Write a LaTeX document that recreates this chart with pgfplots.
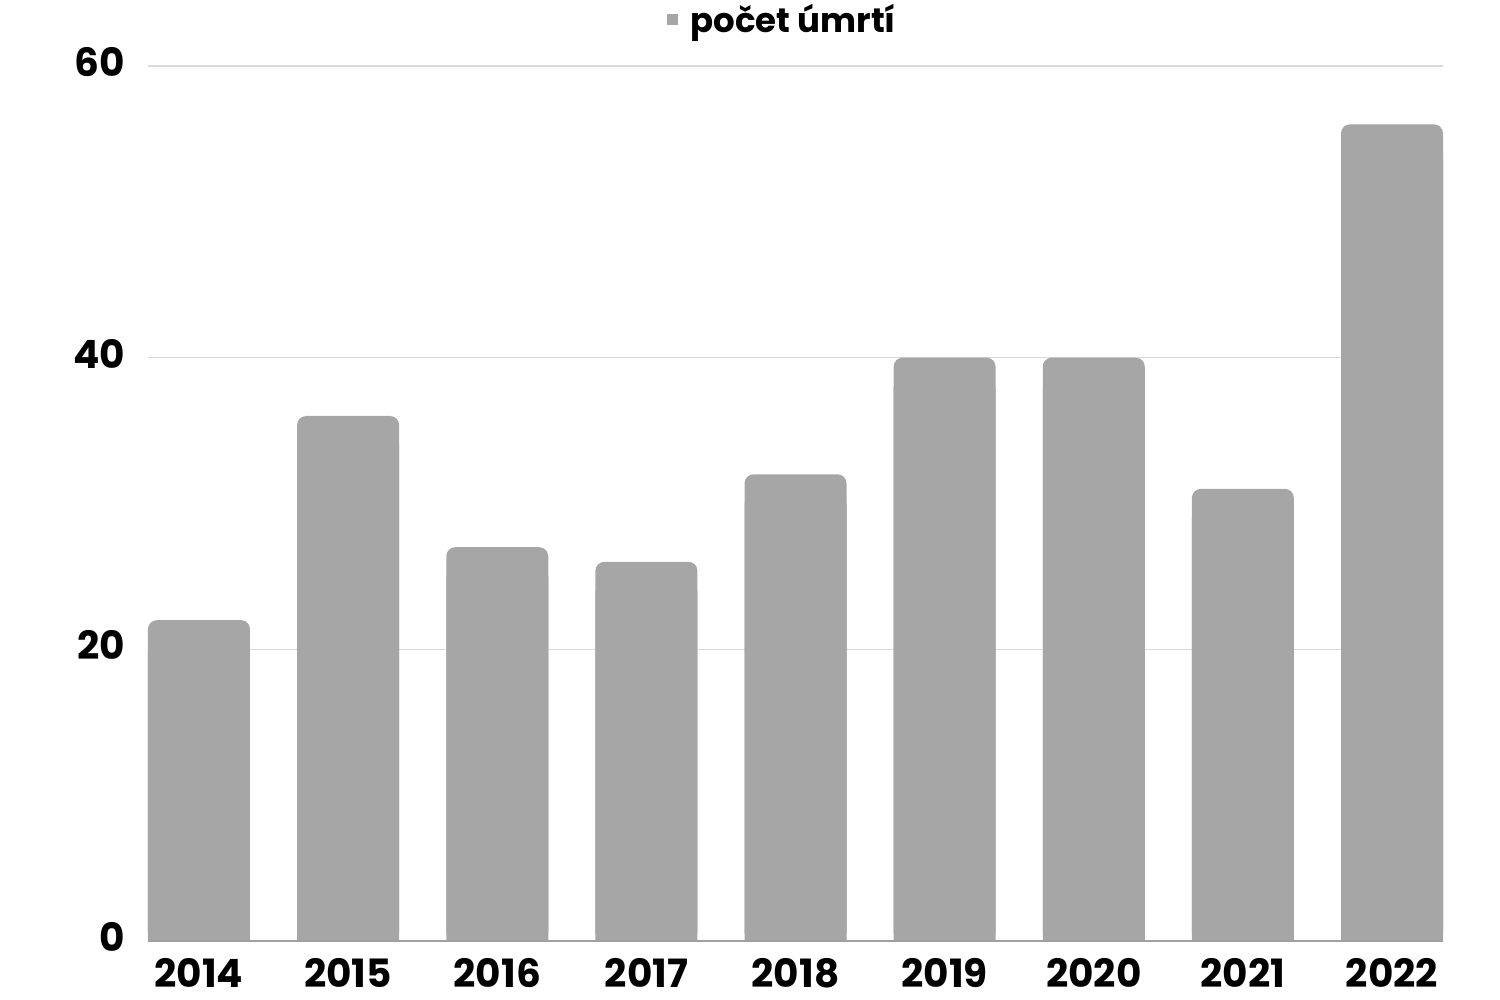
\documentclass[border=0pt]{standalone}
\usepackage{fontspec}
\setmainfont{Poppins}
\usepackage{pgfplots}
\pgfplotsset{compat=1.18}
\usepackage{pgfplotstable}

\definecolor{barc}{HTML}{A6A6A6}
\definecolor{gridc}{HTML}{DADADA}
\definecolor{basec}{HTML}{A0A0A0}

% deaths per year, 2014 = 0 ... 2022 = 8
\pgfplotstableread{
x n
0 22
1 36
2 27
3 26
4 32
5 40
6 40
7 31
8 56
}\deaths

\begin{document}
\begin{tikzpicture}
\begin{axis}[
  scale only axis,
  width=647.5pt, height=437.5pt,
  ymin=0, ymax=60, ytick={0,20,40,60},
  xmin=-0.342, xmax=8.342,
  xtick=data,
  xticklabels={2014,2015,2016,2017,2018,2019,2020,2021,2022},
  ybar, bar width=51pt, bar shift=0pt,
  axis x line*=bottom, axis y line*=left,
  x axis line style={draw=basec, line width=1pt, -},
  y axis line style={draw=none},
  ymajorgrids, grid style={gridc, line width=0.8pt},
  major tick length=0pt,
  /pgf/number format/assume math mode=true,
  tick label style={font=\fontsize{19.5}{24}\selectfont\bfseries},
  yticklabel style={xshift=-8pt, yshift=2pt},
  xticklabel style={yshift=-5pt},
  legend style={at={(0.5,1)}, anchor=center, xshift=-6pt, yshift=23pt,
    draw=none, fill=none, font=\fontsize{17}{20}\selectfont\bfseries,
    /tikz/every odd column/.append style={column sep=4pt}},
  legend image code/.code={\fill[barc, sharp corners] (0pt,-2.5pt) rectangle (5.5pt,3pt);},
]
\addplot[fill=barc, draw=none, rounded corners=4.5pt] table[x=x, y=n] {\deaths};
\addlegendentry{počet úmrtí}
% square-cornered underlay so that only the tops are rounded
\addplot[fill=barc, draw=none, forget plot] table[x=x, y expr=\thisrow{n}-2] {\deaths};
\draw[basec, line width=1pt] (axis cs:-0.342,0) -- (axis cs:8.342,0);
\end{axis}
\pgfresetboundingbox
\path[use as bounding box] ([shift={(-74pt,-29.5pt)}]current axis.south west) rectangle ([shift={(28.5pt,33pt)}]current axis.north east);
\end{tikzpicture}
\end{document}
